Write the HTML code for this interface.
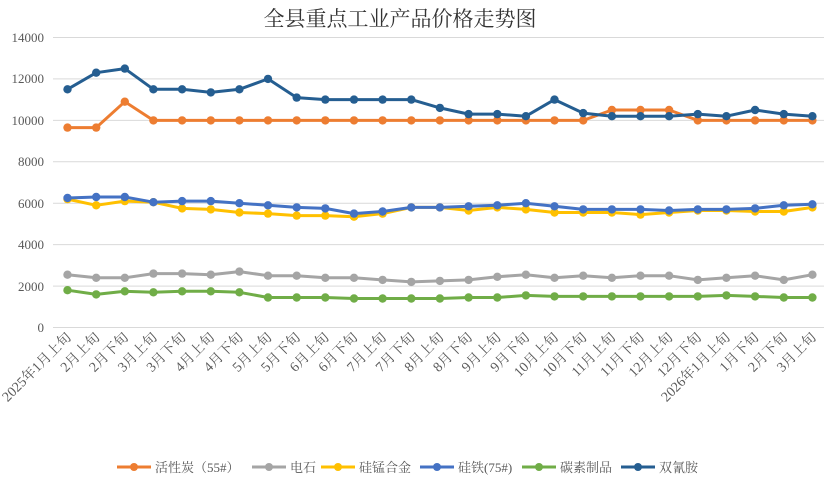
<!DOCTYPE html>
<html><head><meta charset="utf-8"><style>
html,body{margin:0;padding:0;background:#fff;}
svg{display:block;font-family:"Liberation Serif","Noto Serif CJK SC",serif;}
</style></head><body>
<svg id="c" width="824" height="486" viewBox="0 0 824 486" xmlns="http://www.w3.org/2000/svg">
<text x="400" y="26" font-size="21" text-anchor="middle" fill="#333">全县重点工业产品价格走势图</text>
<g font-size="13" fill="#595959" text-anchor="end">
<text x="44" y="42">14000</text><text x="44" y="83">12000</text><text x="44" y="125">10000</text>
<text x="44" y="166">8000</text><text x="44" y="208">6000</text><text x="44" y="249">4000</text>
<text x="44" y="291">2000</text><text x="44" y="332">0</text>
</g>
<g stroke="#d9d9d9" stroke-width="1">
<line x1="53" x2="826" y1="37.5" y2="37.5"/><line x1="53" x2="826" y1="78.9" y2="78.9"/>
<line x1="53" x2="826" y1="120.4" y2="120.4"/><line x1="53" x2="826" y1="161.8" y2="161.8"/>
<line x1="53" x2="826" y1="203.2" y2="203.2"/><line x1="53" x2="826" y1="244.6" y2="244.6"/>
<line x1="53" x2="826" y1="286.1" y2="286.1"/><line x1="53" x2="826" y1="327.5" y2="327.5"/>
</g>
<g id="series"></g>
<g font-size="14" fill="#595959" text-anchor="end">
<text transform="translate(72,338) rotate(-45)">2025年1月上旬</text>
<text transform="translate(100.6,338) rotate(-45)">2月上旬</text>
<text transform="translate(129.3,338) rotate(-45)">2月下旬</text>
<text transform="translate(158,338) rotate(-45)">3月上旬</text>
<text transform="translate(186.6,338) rotate(-45)">3月下旬</text>
<text transform="translate(215.3,338) rotate(-45)">4月上旬</text>
<text transform="translate(243.9,338) rotate(-45)">4月下旬</text>
<text transform="translate(272.6,338) rotate(-45)">5月上旬</text>
<text transform="translate(301.2,338) rotate(-45)">5月下旬</text>
<text transform="translate(329.9,338) rotate(-45)">6月上旬</text>
<text transform="translate(358.5,338) rotate(-45)">6月下旬</text>
<text transform="translate(387.2,338) rotate(-45)">7月上旬</text>
<text transform="translate(415.8,338) rotate(-45)">7月下旬</text>
<text transform="translate(444.5,338) rotate(-45)">8月上旬</text>
<text transform="translate(473.1,338) rotate(-45)">8月下旬</text>
<text transform="translate(501.8,338) rotate(-45)">9月上旬</text>
<text transform="translate(530.4,338) rotate(-45)">9月下旬</text>
<text transform="translate(559.1,338) rotate(-45)">10月上旬</text>
<text transform="translate(587.7,338) rotate(-45)">10月下旬</text>
<text transform="translate(616.4,338) rotate(-45)">11月上旬</text>
<text transform="translate(645,338) rotate(-45)">11月下旬</text>
<text transform="translate(673.7,338) rotate(-45)">12月上旬</text>
<text transform="translate(702.3,338) rotate(-45)">12月下旬</text>
<text transform="translate(731,338) rotate(-45)">2026年1月上旬</text>
<text transform="translate(759.6,338) rotate(-45)">1月下旬</text>
<text transform="translate(788.3,338) rotate(-45)">2月下旬</text>
<text transform="translate(817,338) rotate(-45)">3月上旬</text>
</g>
<g font-size="13" fill="#595959">
<line x1="117" x2="151" y1="467" y2="467" stroke="#ED7D31" stroke-width="3"/><circle cx="134" cy="467" r="4" fill="#ED7D31"/>
<text x="155" y="472">活性炭（55#）</text>
<line x1="252" x2="286" y1="467" y2="467" stroke="#A5A5A5" stroke-width="3"/><circle cx="269" cy="467" r="4" fill="#A5A5A5"/>
<text x="290" y="472">电石</text>
<line x1="321" x2="355" y1="467" y2="467" stroke="#FFC000" stroke-width="3"/><circle cx="338" cy="467" r="4" fill="#FFC000"/>
<text x="359" y="472">硅锰合金</text>
<line x1="420" x2="454" y1="467" y2="467" stroke="#4472C4" stroke-width="3"/><circle cx="437" cy="467" r="4" fill="#4472C4"/>
<text x="458" y="472">硅铁(75#)</text>
<line x1="522" x2="556" y1="467" y2="467" stroke="#70AD47" stroke-width="3"/><circle cx="539" cy="467" r="4" fill="#70AD47"/>
<text x="560" y="472">碳素制品</text>
<line x1="621" x2="655" y1="467" y2="467" stroke="#255E91" stroke-width="3"/><circle cx="638" cy="467" r="4" fill="#255E91"/>
<text x="659" y="472">双氰胺</text>
</g>
</svg>
<script>
var S=[
["#70AD47",[1800,1600,1750,1700,1750,1750,1700,1450,1450,1450,1400,1400,1400,1400,1450,1450,1550,1500,1500,1500,1500,1500,1500,1550,1500,1450,1450]],
["#A5A5A5",[2550,2400,2400,2600,2600,2550,2700,2500,2500,2400,2400,2300,2200,2250,2300,2450,2550,2400,2500,2400,2500,2500,2300,2400,2500,2300,2550]],
["#FFC000",[6200,5900,6100,6050,5750,5700,5550,5500,5400,5400,5350,5500,5800,5800,5650,5800,5700,5550,5550,5550,5450,5550,5650,5650,5600,5600,5800]],
["#4472C4",[6250,6300,6300,6050,6100,6100,6000,5900,5800,5750,5500,5600,5800,5800,5850,5900,6000,5850,5700,5700,5700,5650,5700,5700,5750,5900,5950]],
["#ED7D31",[9650,9650,10900,10000,10000,10000,10000,10000,10000,10000,10000,10000,10000,10000,10000,10000,10000,10000,10000,10500,10500,10500,10000,10000,10000,10000,10000]],
["#255E91",[11500,12300,12500,11500,11500,11350,11500,12000,11100,11000,11000,11000,11000,10600,10300,10300,10200,11000,10350,10200,10200,10200,10300,10200,10500,10300,10200]]
];
var g=document.getElementById('series'),h="";
S.forEach(function(s){var pts=s[1].map(function(v,i){return [67.5+i*28.65,327.5-v/14000*290];});
h+='<polyline fill="none" stroke="'+s[0]+'" stroke-width="3" stroke-linejoin="round" points="'+pts.map(function(p){return p[0].toFixed(1)+','+p[1].toFixed(1)}).join(' ')+'"/>';
pts.forEach(function(p){h+='<circle cx="'+p[0].toFixed(1)+'" cy="'+p[1].toFixed(1)+'" r="4.2" fill="'+s[0]+'"/>';});});
g.innerHTML=h;
</script>
</body></html>
